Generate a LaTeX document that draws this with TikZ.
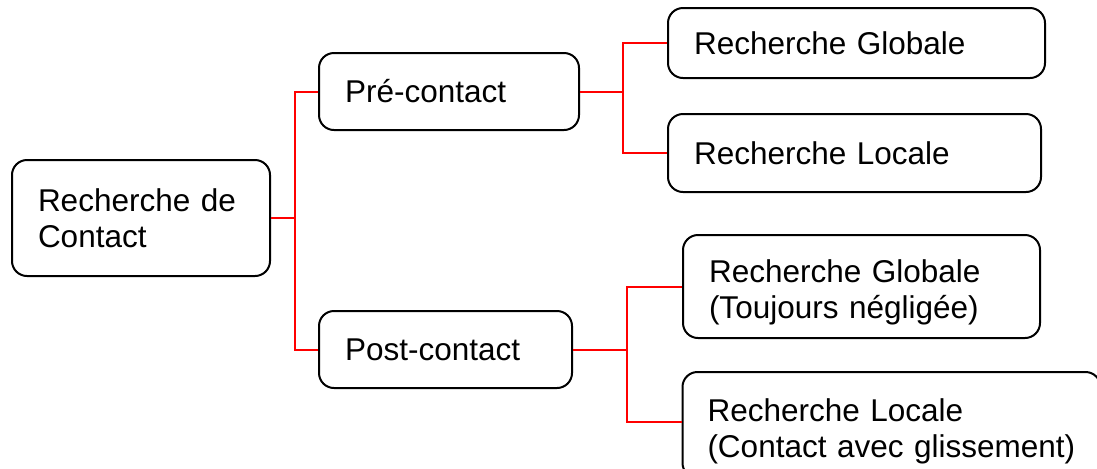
\documentclass[tikz,border=0pt]{standalone}
\usepackage{fontspec}
\setmainfont{Liberation Sans}
\usetikzlibrary{positioning}
\definecolor{linkred}{RGB}{255, 0, 0}

\tikzset{
  box/.style={draw=black, line width=1pt, rounded corners=7.5pt, align=left,
    inner xsep=13pt, inner ysep=0pt, font=\fontsize{15.75}{18}\selectfont},
  link/.style={draw=linkred, line width=1pt}
}

\begin{document}
\begin{tikzpicture}[x=0.5pt, y=-0.5pt]
  \useasboundingbox (0,0) rectangle (1097,468);

  % first level
  \node[box, minimum width=129pt, minimum height=58pt, text width=103pt] (root) at (141,218) {Recherche de\\Contact};

  % second level
  \node[box, minimum width=130pt, minimum height=38.5pt, text width=104pt] (pre) at (449,91.5) {Pré-contact};
  \node[box, minimum width=126.5pt, minimum height=38.5pt, text width=100.5pt] (post) at (445.5,349.5) {Post-contact};

  % third level
  \node[box, minimum width=188.5pt, minimum height=35pt, text width=162.5pt] (preglob) at (856.5,43) {Recherche Globale};
  \node[box, minimum width=186.5pt, minimum height=39pt, text width=160.5pt] (preloc) at (854.5,153) {Recherche Locale};
  \node[box, minimum width=178.5pt, minimum height=51.5pt, text width=152.5pt] (postglob) at (861.5,286.5) {\rule{0pt}{17.5pt}Recherche Globale\\(Toujours négligée)};
  \node[box, inner xsep=12.5pt, minimum width=209pt, minimum height=53pt, text width=184pt] (postloc) at (891.5,425) {\rule{0pt}{17.5pt}Recherche Locale\\(Contact avec glissement)};

  % links
  \draw[link] (root.east) -- ++(12pt,0) coordinate (jroot);
  \draw[link] (pre.west) -| (jroot) |- (post.west);
  \draw[link] (pre.east) -- ++(21.5pt,0) coordinate (jpre);
  \draw[link] (preglob.west) -| (jpre) |- (preloc.west);
  \draw[link] (post.east) -- ++(27pt,0) coordinate (jpost);
  \draw[link] (postglob.west) -| (jpost) |- ([yshift=1.5pt]postloc.west);
\end{tikzpicture}
\end{document}
